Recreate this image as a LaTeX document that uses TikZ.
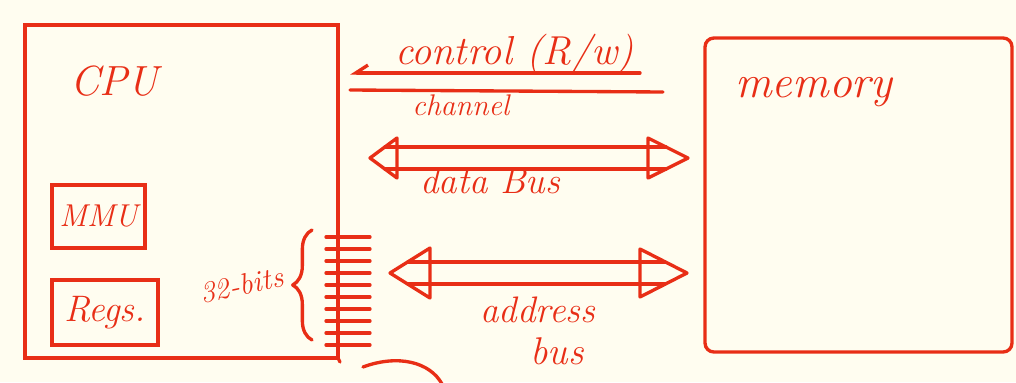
\documentclass[tikz,border=0pt]{standalone}
\usepackage{tikz}
\usetikzlibrary{arrows.meta, positioning, decorations.pathreplacing}
\definecolor{sketchRed}{RGB}{232,46,22}
\definecolor{paper}{RGB}{255,253,240}
\newcommand\handfont[1]{\fontsize{#1}{#1}\selectfont}
\tikzstyle{box} = [rectangle, draw=sketchRed, text=sketchRed, font=\itshape, line width=1.9pt, inner sep=0pt]
\tikzstyle{handText} = [text=sketchRed, font=\itshape, inner sep=0pt]
\tikzstyle{stroke} = [draw=sketchRed, line width=1.9pt, line cap=round, line join=round]

\begin{document}
\begin{tikzpicture}[x=0.02cm, y=-0.02cm]
\fill[paper] (0,0) rectangle (1016,382);
\useasboundingbox (0,0) rectangle (1016,382);
%----------------------------------------------------------------------------
% Placement of boxes
\node (cpuBox) [box, minimum width=6.26cm, minimum height=6.66cm] at (181.5,191.5) {};
\node (cpuLabel) [handText, anchor=base west] at (70,95) {\handfont{24}CPU};
\node (mmuBox) [box, minimum width=1.86cm, minimum height=1.26cm] at (98.5,216.5) {\handfont{18}MMU};
\node (regsBox) [box, minimum width=2.12cm, minimum height=1.3cm] at (105,312.5) {\handfont{21}Regs.};

\node (memBox) [box, rounded corners=5pt, minimum width=6.14cm, minimum height=6.28cm] at (858.5,195) {};
\node (memLabel) [handText, anchor=base west] at (735,97) {\handfont{26}memory};

%----------------------------------------------------------------------------
% Control channel
\coordinate (ctrlA) at (640,73);
\coordinate (ctrlB) at (350,73);
\coordinate (chanA) at (350,90);
\coordinate (chanB) at (663,92);
\draw [stroke, -{Straight Barb[right, length=7pt, width=9pt]}] (ctrlA) -- (ctrlB);
\draw [stroke] (chanA) -- (chanB);
\node (ctrlLabel) [handText, anchor=base west] at (395,64) {\handfont{23}control (R/w)};
\node (chanLabel) [handText, anchor=base west] at (412,115) {\handfont{17}channel};

%----------------------------------------------------------------------------
% Data bus
\coordinate (dataL) at (370,158);
\coordinate (dataR) at (688,158);
\draw [stroke] (dataL) -- ++(27,-20) -- ++(0,40) -- cycle;
\draw [stroke] (dataR) -- ++(-40,-20) -- ++(0,40) -- cycle;
\draw [stroke] ([shift={(15,-11)}]dataL) -- ([shift={(-22,-11)}]dataR);
\draw [stroke] ([shift={(15,11)}]dataL) -- ([shift={(-22,11)}]dataR);
\node (dataLabel) [handText, anchor=base west] at (420,193) {\handfont{21}data Bus};

%----------------------------------------------------------------------------
% Address bus
\coordinate (addrL) at (390,273);
\coordinate (addrR) at (687,273);
\draw [stroke] (addrL) -- ++(40,-25) -- ++(0,50) -- cycle;
\draw [stroke] (addrR) -- ++(-47,-24) -- ++(0,48) -- cycle;
\draw [stroke] ([shift={(18,-11)}]addrL) -- ([shift={(-22,-11)}]addrR);
\draw [stroke] ([shift={(18,11)}]addrL) -- ([shift={(-22,11)}]addrR);
\node (addrLabel) [handText, anchor=base west] at (480,322) {\handfont{21}address};
\node (busLabel) [handText, anchor=base west] at (530,364) {\handfont{22}bus};

%----------------------------------------------------------------------------
% 32 lines leaving the CPU
\foreach \y in {237,249,...,345}
  \draw [stroke] (326,\y) -- (370,\y);
\draw [stroke] (338,358) -- (340,362);
\draw [stroke, decorate, decoration={brace, amplitude=11pt}] (312,340) -- (312,230);
\node (bitsLabel) [handText, anchor=base west, rotate=12] at (202,304) {\handfont{17}32-bits};

\draw [stroke] (363,367) .. controls (398,354) and (430,362) .. (442,384);

\end{tikzpicture}
\end{document}
